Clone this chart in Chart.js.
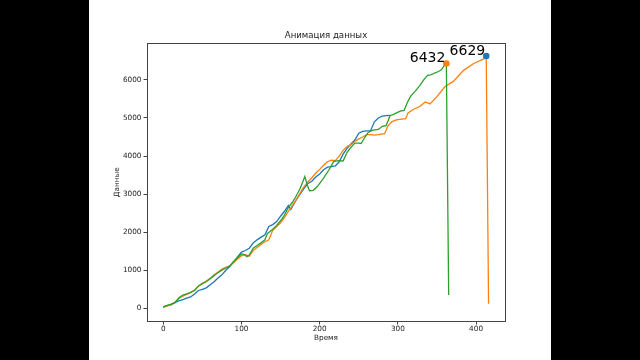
<!DOCTYPE html>
<html>
<head>
<meta charset="utf-8">
<script src="https://cdn.jsdelivr.net/npm/chart.js@4/dist/chart.umd.min.js"></script>
<style>
  html, body { margin: 0; padding: 0; background: #000; }
  #frame { position: absolute; left: 89px; top: 0; width: 462px; height: 360px; background: #fff; }
</style>
</head>
<body>
<div id="frame"><canvas id="chart" width="462" height="360"></canvas></div>
<script>
// data
const blueX = [0,5,10,15,20,25,30,35,40,45,50,55,60,65,70,75,80,85,90,95,100,105,110,115,120,125,130,135,140,145,150,155,160,163,170,175,180,185,190,195,200,205,210,215,220,225,230,235,240,245,250,255,260,265,270,275,280,285,290];
const blueY = [40,70,90,150,200,230,270,300,380,470,500,540,620,700,800,880,1000,1100,1230,1350,1480,1520,1580,1720,1800,1870,1930,2150,2200,2280,2420,2550,2700,2600,2850,3000,3150,3280,3340,3450,3530,3640,3710,3720,3740,3850,4050,4200,4320,4420,4600,4650,4660,4660,4900,5000,5050,5060,5070];

const orangeX = [0,5,10,15,20,25,30,35,40,45,50,55,60,65,70,75,80,85,90,95,100,105,110,115,120,125,130,135,140,145,150,155,160,165,170,175,180,185,190,195,200,205,210,215,220,225,230,235,240,245,250,255,260,265,270,275,280,283,287,292,298,305,310,313,320,328,335,341,350,360,371,384,397,410,413,416];
const orangeY = [30,60,100,170,260,320,370,420,480,580,660,720,790,880,950,1030,1080,1120,1200,1300,1380,1410,1370,1520,1600,1680,1750,1800,2050,2150,2250,2380,2550,2700,2850,3030,3200,3320,3430,3550,3650,3760,3850,3890,3880,4000,4150,4250,4300,4380,4450,4500,4560,4560,4550,4560,4580,4580,4780,4900,4950,4970,4980,5130,5230,5300,5420,5370,5560,5820,5960,6250,6430,6550,6629,120];

const greenX = [0,5,10,15,20,25,30,35,40,45,50,55,60,65,70,75,80,85,90,95,100,103,107,110,115,120,125,130,133,140,145,150,155,160,165,170,175,178,181,184,187,192,197,205,212,218,225,230,235,240,245,250,253,258,262,268,275,280,285,290,295,303,308,312,316,322,328,333,338,342,347,352,356,360,362,365];
const greenY = [40,80,110,150,280,350,380,420,470,590,650,700,780,860,940,1000,1060,1110,1230,1330,1430,1420,1360,1400,1580,1650,1720,1800,1960,2080,2180,2300,2450,2650,2780,2950,3150,3300,3460,3250,3090,3100,3200,3420,3640,3860,3880,3870,4100,4230,4340,4340,4330,4500,4620,4680,4700,4780,4800,5060,5100,5180,5200,5400,5560,5700,5850,6000,6120,6130,6180,6220,6270,6400,6432,350];

// annotated end points
const markX = [362, 413];
const markY = [6432, 6629];
const markLabels = ["6432", "6629"];
const markColors = ["#ff7f0e", "#1f77b4"];

const xTicks = [0, 100, 200, 300, 400];
const yTicks = [0, 1000, 2000, 3000, 4000, 5000, 6000];

function pts(xs, ys) {
  return xs.map((x, i) => ({ x: x, y: ys[i] }));
}

const axisColor = "#444";
const textColor = "#222";
const font = { family: "DejaVu Sans", size: 7.3 };

// box around the plot + the annotation texts
const framePlugin = {
  id: "frame",
  afterDraw(chart) {
    const { ctx, chartArea: a, scales } = chart;
    ctx.save();
    ctx.strokeStyle = axisColor;
    ctx.lineWidth = 1;
    ctx.strokeRect(Math.round(a.left) + 0.5, Math.round(a.top) + 0.5,
      Math.round(a.right - a.left), Math.round(a.bottom - a.top));
    ctx.fillStyle = "#000";
    ctx.font = "14px 'DejaVu Sans'";
    ctx.textAlign = "right";
    ctx.textBaseline = "bottom";
    for (let i = 0; i < markX.length; i++) {
      const px = scales.x.getPixelForValue(markX[i]);
      const py = scales.y.getPixelForValue(markY[i]);
      ctx.fillText(markLabels[i], px - 1, py + 2);
    }
    ctx.restore();
  }
};

new Chart(document.getElementById("chart"), {
  type: "line",
  data: {
    datasets: [
      {
        data: markX.map((x, i) => ({ x: x, y: markY[i] })),
        showLine: false,
        pointRadius: 3.3,
        pointBackgroundColor: markColors,
        pointBorderWidth: 0,
        order: 0
      },
      { data: pts(greenX, greenY), borderColor: "#2ca02c", borderWidth: 1.3, pointRadius: 0, order: 1 },
      { data: pts(orangeX, orangeY), borderColor: "#ff7f0e", borderWidth: 1.3, pointRadius: 0, order: 2 },
      { data: pts(blueX, blueY), borderColor: "#1f77b4", borderWidth: 1.3, pointRadius: 0, order: 3 }
    ]
  },
  options: {
    responsive: false,
    animation: false,
    layout: { padding: { left: 0, right: 46, top: 0, bottom: 0 } },
    plugins: {
      legend: { display: false },
      tooltip: { enabled: false },
      title: {
        display: true,
        fullSize: false,
        text: "Анимация данных",
        color: textColor,
        font: { family: "DejaVu Sans", size: 8.6, weight: "normal" },
        padding: { top: 30.5, bottom: 2.5 }
      }
    },
    scales: {
      x: {
        type: "linear",
        min: -20.8,
        max: 437,
        afterBuildTicks: (s) => { s.ticks = xTicks.map(v => ({ value: v })); },
        afterFit: (s) => { s.height = 39; },
        grid: { display: true, drawOnChartArea: false, drawTicks: true, tickLength: 3.5, color: axisColor },
        border: { display: false },
        ticks: { color: textColor, font: font, padding: 0, callback: (v) => String(v) },
        title: { display: true, text: "Время", color: textColor, font: font, padding: { top: 0, bottom: 17.6 } }
      },
      y: {
        type: "linear",
        min: -331,
        max: 6960,
        afterBuildTicks: (s) => { s.ticks = yTicks.map(v => ({ value: v })); },
        afterFit: (s) => { s.width = 58; },
        grid: { display: true, drawOnChartArea: false, drawTicks: true, tickLength: 3.5, color: axisColor },
        border: { display: false },
        ticks: { color: textColor, font: font, padding: 2, callback: (v) => String(v) },
        title: { display: true, text: "Данные", color: textColor, font: font, padding: { top: 24, bottom: 0 } }
      }
    }
  },
  plugins: [framePlugin]
});
</script>
</body>
</html>
